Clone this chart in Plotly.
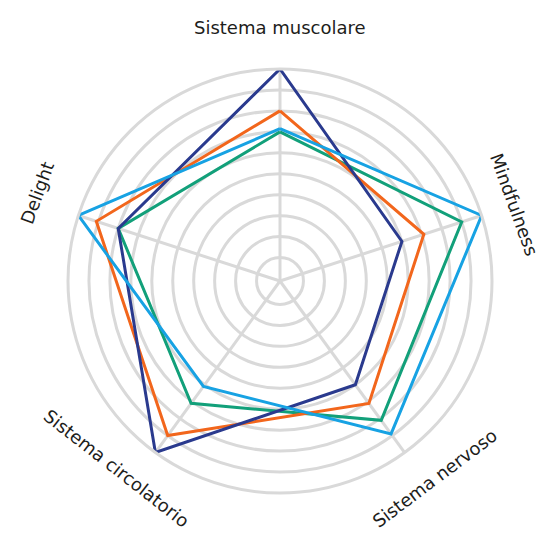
import math
import plotly.graph_objects as go

# axes, clockwise from the top
categories = ["Sistema muscolare", "Mindfulness", "Sistema nervoso",
              "Sistema circolatorio", "Delight"]

# series values (scale 0-10)
serie_verde = [7.0, 9.0, 8.1, 7.1, 8.0]
serie_blu = [10.0, 6.0, 6.0, 10.0, 8.0]
serie_arancio = [8.0, 7.1, 7.1, 9.0, 9.1]
serie_azzurro = [7.15, 10.0, 8.9, 6.1, 10.0]

grid_levels = [1, 2, 3, 4, 5, 6, 7, 8, 9, 10]

# page body has an 8px margin, so the figure is drawn slightly smaller
OFF = 8
W, H = 551 - 2 * OFF, 542 - 2 * OFF
GRID = "#d9d9d9"

fig = go.Figure()


def add_serie(vals, color, name):
    fig.add_trace(go.Scatterpolar(
        r=vals + vals[:1],
        theta=categories + categories[:1],
        mode="lines",
        line=dict(color=color, width=3),
        name=name,
        hoverinfo="skip",
    ))


add_serie(serie_verde, "#12a07a", "verde")
add_serie(serie_arancio, "#f2661c", "arancio")
add_serie(serie_blu, "#2a3a8e", "blu")
add_serie(serie_azzurro, "#17a2e3", "azzurro")

# polar area placement (screen pixels -> paper)
cx, cy, rad = 280 - OFF, 281 - OFF, 212
dom_x = [(cx - rad) / W, (cx + rad) / W]
dom_y = [1 - (cy + rad) / H, 1 - (cy - rad) / H]

fig.update_layout(
    width=W, height=H,
    margin=dict(l=0, r=0, t=0, b=0),
    paper_bgcolor="white",
    plot_bgcolor="white",
    showlegend=False,
    polar=dict(
        domain=dict(x=dom_x, y=dom_y),
        bgcolor="white",
        radialaxis=dict(
            range=[-0.12, 10],
            tickvals=grid_levels,
            showticklabels=False,
            ticks="",
            showline=False,
            gridcolor=GRID,
            gridwidth=3,
        ),
        angularaxis=dict(
            rotation=90,
            direction="clockwise",
            showticklabels=False,
            ticks="",
            showline=True,
            linecolor=GRID,
            linewidth=3,
            gridcolor=GRID,
            gridwidth=3,
        ),
    ),
)

# rotated labels around the outside: (angle of label centre, radius, tilt)
label_pos = [(90, 253, 0), (18, 246, 70), (-52, 251, -37),
             (-131, 249, 38), (160, 258, -70)]
for cat, (ang, lr, rot) in zip(categories, label_pos):
    a = math.radians(ang)
    px = cx + lr * math.cos(a)
    py = cy - lr * math.sin(a)
    fig.add_annotation(
        x=px / W, y=1 - py / H, xref="paper", yref="paper",
        text=cat, showarrow=False, textangle=rot,
        xanchor="center", yanchor="middle",
        font=dict(family="DejaVu Sans", size=18, color="#1d1d1b"),
    )

fig.write_html("out.html")
